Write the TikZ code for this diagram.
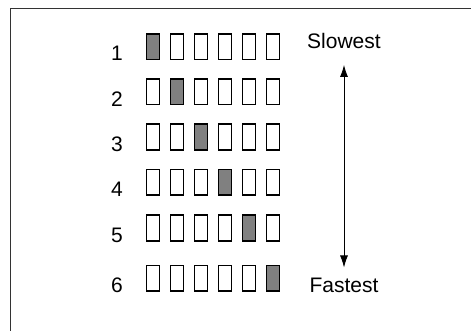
\documentclass[tikz,border=0pt]{standalone}
\usepackage{fontspec}
\setmainfont{Liberation Sans}
\usetikzlibrary{arrows.meta, positioning}
\tikzstyle{slot} = [rectangle, draw=black, line width=1.6bp, fill=white, minimum width=13bp, minimum height=25.5bp, inner sep=0pt]
\tikzstyle{busy} = [slot, fill=gray]
\tikzstyle{txt} = [inner sep=0pt, font=\fontsize{21bp}{25bp}\selectfont]
\tikzstyle{arrow} = [line width=0.8bp, {Latex[length=12bp,width=8bp]}-{Latex[length=12bp,width=8bp]}]

\begin{document}
\begin{tikzpicture}[x=1bp, y=-1bp]
\useasboundingbox (0,0) rectangle (471,330);
% Frame
\draw[line width=1bp, black!80] (10.7,331) -- (10.7,8.3) -- (472,8.3);

% Rows of slots
\foreach \r/\y in {1/46.7, 2/91.7, 3/137, 4/182.3, 5/228, 6/278.2} {
    \node[txt] (n\r) at (117,\y+7) {\r};
    \foreach \c in {1,...,6} {
        \ifnum\c=\r
            \node[busy] (s\r\c) at (153+24*\c-24,\y) {};
        \else
            \node[slot] (s\r\c) at (153+24*\c-24,\y) {};
        \fi
    }
}

% Speed scale
\node[txt] (slow) at (344,41) {Slowest};
\node[txt] (fast) at (344,285) {Fastest};
\draw[arrow] ([yshift=-16bp]slow.south) -- ([yshift=10bp]fast.north);
\end{tikzpicture}
\end{document}
